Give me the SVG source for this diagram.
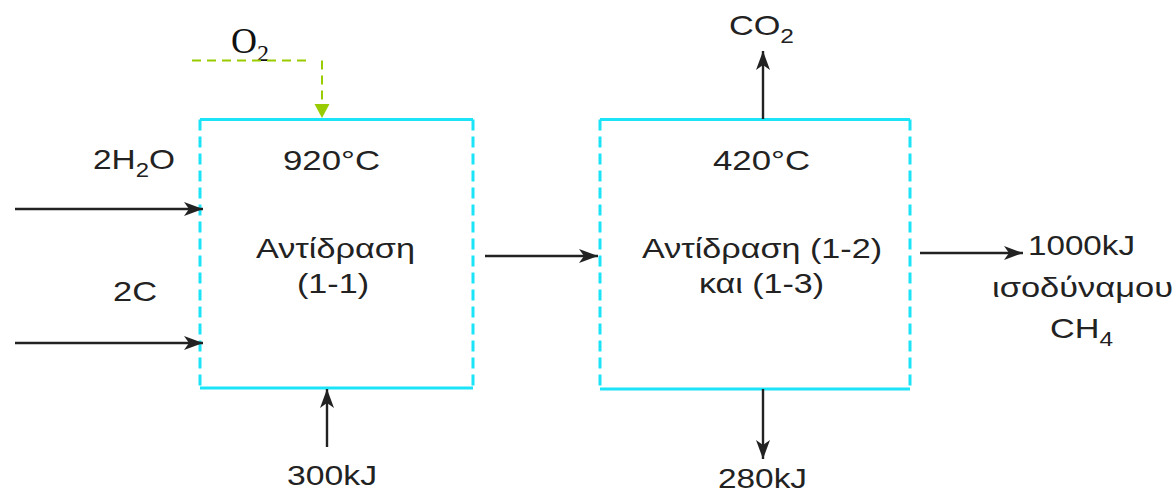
<svg xmlns="http://www.w3.org/2000/svg" width="1175" height="494" viewBox="0 0 1175 494">
<style>
.t{font-family:"Liberation Sans",Arial,sans-serif;font-size:28px;fill:#222}
.ts{font-family:"Liberation Serif","Times New Roman",serif;fill:#111}
.solid{stroke:#1ce4f8;stroke-width:3;fill:none}
.dash{stroke:#1ce4f8;stroke-width:3;fill:none;stroke-dasharray:11 6}
.arr{stroke:#222;stroke-width:2.4;fill:none;marker-end:url(#ah)}
.o2{stroke:#99cc00;stroke-width:2;fill:none;stroke-dasharray:9 6}
</style>
<defs>
<marker id="ah" markerUnits="userSpaceOnUse" markerWidth="22" markerHeight="16" refX="19" refY="7" orient="auto">
<path d="M0,0 L19,7 L0,14 L5,7 z" fill="#222"/>
</marker>
<marker id="gh" markerUnits="userSpaceOnUse" markerWidth="16" markerHeight="16" refX="14" refY="7.5" orient="auto">
<path d="M0,0 L14,7.5 L0,15 z" fill="#99cc00"/>
</marker>
</defs>
<g id="box1">
<path class="solid" d="M200,119.5 H473 M200,388 H473"/>
<path class="dash" d="M200,119.5 V388 M473,119.5 V388"/>
<text class="t" x="283" y="170" textLength="97" lengthAdjust="spacingAndGlyphs">920°C</text>
<text class="t" x="256" y="258" textLength="159" lengthAdjust="spacingAndGlyphs">Αντίδραση</text>
<text class="t" x="297" y="293" textLength="72" lengthAdjust="spacingAndGlyphs">(1-1)</text>
</g>
<g id="box2">
<path class="solid" d="M600,119.5 H910 M600,389 H910"/>
<path class="dash" d="M600,119.5 V389 M910,119.5 V389"/>
<text class="t" x="713" y="170" textLength="97" lengthAdjust="spacingAndGlyphs">420°C</text>
<text class="t" x="642" y="258" textLength="240" lengthAdjust="spacingAndGlyphs">Αντίδραση (1-2)</text>
<text class="t" x="699" y="293" textLength="125" lengthAdjust="spacingAndGlyphs">και (1-3)</text>
</g>
<g id="labels">
<text class="t" x="93" y="169" textLength="82" lengthAdjust="spacingAndGlyphs">2H<tspan font-size="20" dy="8">2</tspan><tspan dy="-8">O</tspan></text>
<text class="t" x="113" y="301" textLength="44" lengthAdjust="spacingAndGlyphs">2C</text>
<text class="t" x="287" y="485" textLength="90" lengthAdjust="spacingAndGlyphs">300kJ</text>
<text class="t" x="729" y="35" textLength="65" lengthAdjust="spacingAndGlyphs">CO<tspan font-size="20" dy="8">2</tspan></text>
<text class="t" x="718" y="488" textLength="89" lengthAdjust="spacingAndGlyphs">280kJ</text>
<text class="t" x="1028" y="255" textLength="107" lengthAdjust="spacingAndGlyphs">1000kJ</text>
<text class="t" x="992" y="297" textLength="181" lengthAdjust="spacingAndGlyphs">ισοδύναμου</text>
<text class="t" x="1050" y="338" textLength="63" lengthAdjust="spacingAndGlyphs">CH<tspan font-size="20" dy="8">4</tspan></text>
<text class="ts" x="231" y="53" font-size="36">O<tspan font-size="24" dy="8">2</tspan></text>
</g>
<g id="connectors">
<path class="arr" d="M15,209 H203"/>
<path class="arr" d="M15,343 H203"/>
<path class="arr" d="M327,447 V389"/>
<path class="arr" d="M485,256 H598"/>
<path class="arr" d="M763,119 V51"/>
<path class="arr" d="M763,389 V459"/>
<path class="arr" d="M920,253 H1023"/>
<path class="o2" d="M192,60.5 H307"/>
<path class="o2" d="M322,60.5 V118" marker-end="url(#gh)"/>
</g>
</svg>
